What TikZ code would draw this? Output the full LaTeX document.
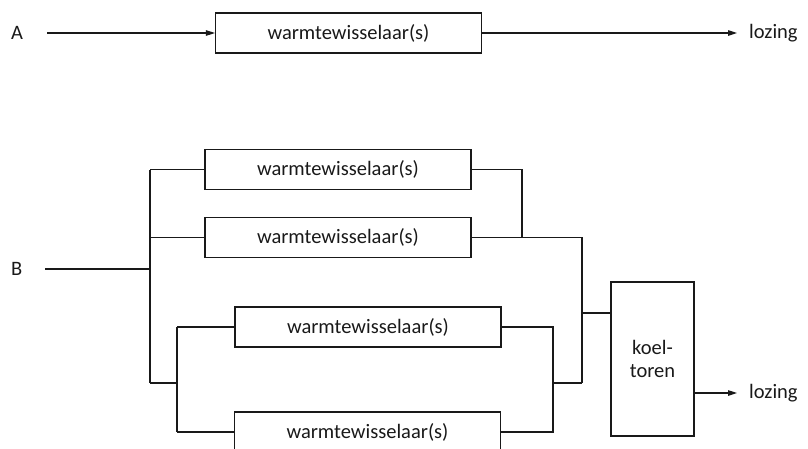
\documentclass[tikz,border=0pt]{standalone}
\usepackage{fontspec}
\setmainfont{Carlito}
\usetikzlibrary{arrows.meta}
\tikzset{
  hx/.style={draw, line width=1.1pt, minimum width=266pt, minimum height=40pt, inner sep=0pt, font=\fontsize{20.5}{24}\selectfont},
  tower/.style={draw, line width=1.1pt, minimum width=83pt, minimum height=154pt, inner sep=0pt, align=center, font=\fontsize{20.5}{23}\selectfont},
  lbl/.style={inner sep=0pt, font=\fontsize{20.5}{24}\selectfont},
  flow/.style={line width=1.1pt},
  flowarrow/.style={line width=1.1pt, -{Triangle[length=9pt,width=5.5pt]}}
}
\begin{document}
\begin{tikzpicture}[x=1pt,y=-1pt, color=black!90]
\useasboundingbox (0,0) rectangle (808,448);
\clip (0,0) rectangle (808,448);
% --- A ---
\node[lbl, anchor=west] (A) at (11,33) {A};
\coordinate (Astart) at (47,33);
\node[hx] (boxA) at (348.5,33) {warmtewisselaar(s)};
\node[lbl, anchor=west] (lozA) at (749,33) {lozing};
\coordinate (Aend) at (737,33);
\draw[flowarrow] (Astart) -- (boxA.west);
\draw[flowarrow] (boxA.east) -- (Aend);
% --- B ---
\node[lbl, anchor=west] (B) at (11,269) {B};
\coordinate (Bstart) at (45,269);
\coordinate (s1) at (150,269);
\coordinate (s1top) at (150,169.5);
\coordinate (s1mid) at (150,237.5);
\coordinate (s1bot) at (150,383);
\coordinate (s2) at (177,383);
\node[hx] (h1) at (338,169.5) {warmtewisselaar(s)};
\node[hx] (h2) at (338,237.5) {warmtewisselaar(s)};
\node[hx] (h3) at (368,327) {warmtewisselaar(s)};
\node[hx] (h4) at (367.5,432) {warmtewisselaar(s)};
\coordinate (s2top) at (177,327);
\coordinate (s2bot) at (177,432);
\draw[flow] (Bstart) -- (s1);
\draw[flow] (s1top) -- (s1bot);
\draw[flow] (s1top) -- (h1.west);
\draw[flow] (s1mid) -- (h2.west);
\draw[flow] (s1bot) -- (s2);
\draw[flow] (s2top) -- (s2bot);
\draw[flow] (s2top) -- (h3.west);
\draw[flow] (s2bot) -- (h4.west);
% --- collection ---
\coordinate (j1) at (522,169.5);
\coordinate (j1b) at (522,237.5);
\coordinate (j2) at (582,237.5);
\coordinate (j2b) at (582,383);
\coordinate (j3) at (553,327);
\coordinate (j3b) at (553,432);
\coordinate (j3m) at (553,383);
\coordinate (jt) at (582,313);
\node[tower] (kt) at (652.5,359) {koel-\\toren};
\node[lbl, anchor=west] (lozB) at (749,393) {lozing};
\coordinate (Bend) at (737,393);
\draw[flow] (h1.east) -- (j1) -- (j1b);
\draw[flow] (h2.east) -- (j2) -- (j2b);
\draw[flow] (h3.east) -- (j3) -- (j3b) -- (h4.east);
\draw[flow] (j3m) -- (j2b);
\draw[flow] (jt) -- (kt.west |- jt);
\draw[flowarrow] (kt.east |- Bend) -- (Bend);
\end{tikzpicture}
\end{document}
